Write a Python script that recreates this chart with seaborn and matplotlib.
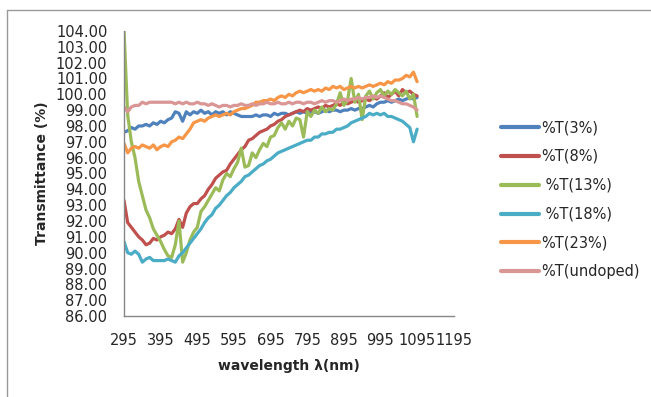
import numpy as np
import pandas as pd
import seaborn as sns
import matplotlib.pyplot as plt
from matplotlib.lines import Line2D

# wavelength grid (nm), every 10 nm
wavelength = [295, 305, 315, 325, 335, 345, 355, 365, 375, 385,
              395, 405, 415, 425, 435, 445, 455, 465, 475, 485,
              495, 505, 515, 525, 535, 545, 555, 565, 575, 585,
              595, 605, 615, 625, 635, 645, 655, 665, 675, 685,
              695, 705, 715, 725, 735, 745, 755, 765, 775, 785,
              795, 805, 815, 825, 835, 845, 855, 865, 875, 885,
              895, 905, 915, 925, 935, 945, 955, 965, 975, 985,
              995, 1005, 1015, 1025, 1035, 1045, 1055, 1065, 1075, 1085,
              1095]

t_3 = [97.6, 97.7, 97.9, 97.8, 98.0, 98.0, 98.1, 98.0, 98.2, 98.1,
       98.3, 98.2, 98.4, 98.5, 98.9, 98.8, 98.3, 98.9, 98.7, 98.9,
       98.8, 99.0, 98.8, 98.9, 98.7, 98.9, 98.8, 98.9, 98.7, 98.9,
       98.8, 98.7, 98.6, 98.6, 98.6, 98.6, 98.7, 98.6, 98.7, 98.7,
       98.6, 98.8, 98.7, 98.8, 98.8, 98.7, 98.8, 98.9, 98.8, 98.9,
       98.8, 98.9, 98.9, 98.8, 98.9, 99.0, 98.9, 99.0, 99.0, 98.9,
       99.0, 99.0, 99.1, 99.0, 99.1, 99.1, 99.2, 99.3, 99.2, 99.4,
       99.5, 99.5, 99.6, 99.5, 99.6, 99.7, 99.6, 99.7, 99.8, 99.7,
       99.8]

t_8 = [93.3, 91.9, 91.6, 91.3, 91.0, 90.8, 90.5, 90.6, 90.9, 90.8,
       91.0, 91.1, 91.3, 91.2, 91.5, 92.1, 91.6, 92.5, 92.9, 93.1,
       93.1, 93.4, 93.6, 94.0, 94.3, 94.7, 94.9, 95.1, 95.2, 95.6,
       95.9, 96.2, 96.5, 96.7, 97.1, 97.2, 97.4, 97.6, 97.7, 97.8,
       98.0, 98.1, 98.3, 98.4, 98.6, 98.7, 98.8, 98.9, 99.0, 98.9,
       99.1, 99.0, 99.1, 99.2, 99.1, 99.3, 99.2, 99.3, 99.4, 99.3,
       99.5, 99.4, 99.5, 99.6, 99.5, 99.6, 99.7, 99.6, 99.8, 99.7,
       99.9, 100.1, 99.8, 100.0, 100.2, 99.9, 100.3, 100.1, 100.2, 100.0,
       99.9]

t_13 = [104.0, 98.7, 97.0, 96.0, 94.5, 93.6, 92.7, 92.2, 91.5, 91.1,
        90.7, 90.2, 89.8, 89.7, 90.5, 92.0, 89.4, 90.0, 90.8, 91.3,
        91.6, 92.6, 92.9, 93.3, 93.7, 94.1, 93.9, 94.6, 95.0, 94.8,
        95.3, 95.7, 96.6, 95.4, 95.5, 96.3, 96.0, 96.5, 96.9, 96.7,
        97.3, 97.4, 97.9, 98.2, 97.8, 98.3, 98.0, 98.5, 98.4, 97.3,
        98.9, 98.6, 99.0, 98.8, 99.2, 98.9, 99.1, 99.0, 99.4, 100.1,
        99.3, 99.6, 101.0, 99.5, 100.0, 98.4, 99.9, 100.2, 99.7, 100.1,
        100.3, 99.9, 100.2, 100.0, 100.3, 100.1, 99.9, 100.2, 99.7, 100.0,
        98.6]

t_18 = [90.7, 90.0, 89.9, 90.1, 89.9, 89.4, 89.6, 89.7, 89.5, 89.5,
        89.5, 89.5, 89.6, 89.5, 89.4, 89.8, 90.0, 90.3, 90.6, 90.9,
        91.2, 91.5, 91.9, 92.2, 92.4, 92.8, 93.0, 93.3, 93.6, 93.8,
        94.1, 94.3, 94.5, 94.8, 94.9, 95.1, 95.3, 95.5, 95.6, 95.8,
        95.9, 96.1, 96.3, 96.4, 96.5, 96.6, 96.7, 96.8, 96.9, 97.0,
        97.1, 97.1, 97.3, 97.3, 97.5, 97.5, 97.6, 97.6, 97.8, 97.8,
        97.9, 98.0, 98.2, 98.3, 98.4, 98.5, 98.6, 98.8, 98.7, 98.8,
        98.7, 98.8, 98.6, 98.6, 98.5, 98.4, 98.3, 98.1, 97.9, 97.0,
        97.8]

t_23 = [96.9, 96.3, 96.6, 96.7, 96.6, 96.8, 96.7, 96.6, 96.8, 96.5,
        96.7, 96.8, 96.7, 97.0, 97.1, 97.3, 97.2, 97.5, 97.8, 98.2,
        98.3, 98.4, 98.3, 98.5, 98.6, 98.7, 98.6, 98.7, 98.8, 98.7,
        98.9, 99.0, 99.1, 99.1, 99.2, 99.3, 99.5, 99.5, 99.6, 99.6,
        99.7, 99.6, 99.8, 99.9, 99.8, 100.0, 99.9, 100.1, 100.2, 100.1,
        100.2, 100.3, 100.2, 100.3, 100.2, 100.4, 100.3, 100.5, 100.4, 100.5,
        100.3, 100.4, 100.5, 100.4, 100.5, 100.4, 100.5, 100.6, 100.5, 100.6,
        100.7, 100.6, 100.8, 100.7, 100.9, 100.9, 101.0, 101.2, 101.1, 101.4,
        100.8]

t_undoped = [99.2, 98.9, 99.2, 99.3, 99.3, 99.5, 99.4, 99.5, 99.5, 99.5,
             99.5, 99.5, 99.5, 99.5, 99.4, 99.5, 99.4, 99.5, 99.4, 99.4,
             99.5, 99.4, 99.4, 99.3, 99.4, 99.3, 99.2, 99.3, 99.3, 99.2,
             99.3, 99.3, 99.4, 99.3, 99.3, 99.4, 99.3, 99.4, 99.4, 99.5,
             99.4, 99.4, 99.5, 99.4, 99.4, 99.5, 99.4, 99.5, 99.5, 99.4,
             99.5, 99.5, 99.4, 99.5, 99.6, 99.5, 99.6, 99.6, 99.5, 99.6,
             99.7, 99.6, 99.7, 99.7, 99.8, 99.7, 99.8, 99.8, 99.9, 99.8,
             99.9, 99.8, 99.7, 99.6, 99.6, 99.5, 99.4, 99.4, 99.3, 99.2,
             99.0]

labels = ["%T(3%)", "%T(8%)", " %T(13%)", " %T(18%)", "%T(23%)", "%T(undoped)"]
colors = ["#4F81BD", "#C0504D", "#9BBB59", "#4BACC6", "#F79646", "#D99694"]
series = [t_3, t_8, t_13, t_18, t_23, t_undoped]

frames = []
for lab, vals in zip(labels, series):
    frames.append(pd.DataFrame({"wavelength": wavelength, "T": vals, "series": lab}))
df = pd.concat(frames, ignore_index=True)

sns.set_style("white")
plt.rcParams["font.family"] = ["DejaVu Sans"]
text_color = "#262626"
axis_color = "#868686"

fig = plt.figure(figsize=(6.51, 3.97), dpi=100)
ax = fig.add_axes([0.1905, 0.204, 0.5065, 0.718])

sns.lineplot(data=df, x="wavelength", y="T", hue="series", hue_order=labels,
             palette=colors, linewidth=2.3, legend=False, ax=ax)

ax.set_xlim(295, 1195)
ax.set_ylim(86, 104)
ax.set_xticks(list(range(295, 1196, 100)))
ax.set_yticks(list(range(86, 105)))
ax.set_yticklabels([f"{v:.2f}" for v in range(86, 105)])

for side in ["top", "right"]:
    ax.spines[side].set_visible(False)
for side in ["left", "bottom"]:
    ax.spines[side].set_color(axis_color)
    ax.spines[side].set_linewidth(1.0)

ax.tick_params(axis="both", which="major", direction="out", length=4, width=1,
               color=axis_color, labelcolor=text_color, labelsize=10.5)
ax.tick_params(axis="y", pad=8)
ax.tick_params(axis="x", pad=8)

ax.set_xlabel("wavelength \u03bb(nm)", fontsize=10, fontweight="bold",
              color=text_color, labelpad=8)
ax.set_ylabel("Transmittance (%)", fontsize=10, fontweight="bold",
              color=text_color, labelpad=5)

handles = [Line2D([0], [0], color=c, linewidth=3) for c in colors]
ax.legend(handles, labels, loc="center left", bbox_to_anchor=(0.75, 0.497),
          bbox_transform=fig.transFigure, frameon=False, fontsize=10.5,
          handlelength=2.6, handletextpad=0.1, labelspacing=0.95,
          labelcolor=text_color)

# chart area border (left and top edges visible)
fig.add_artist(Line2D([7 / 651, 7 / 651], [0, 1 - 10 / 397], color="#9A9A9A", linewidth=1))
fig.add_artist(Line2D([7 / 651, 1], [1 - 10 / 397, 1 - 10 / 397], color="#9A9A9A", linewidth=1))

fig.savefig("out.png", dpi=100)
